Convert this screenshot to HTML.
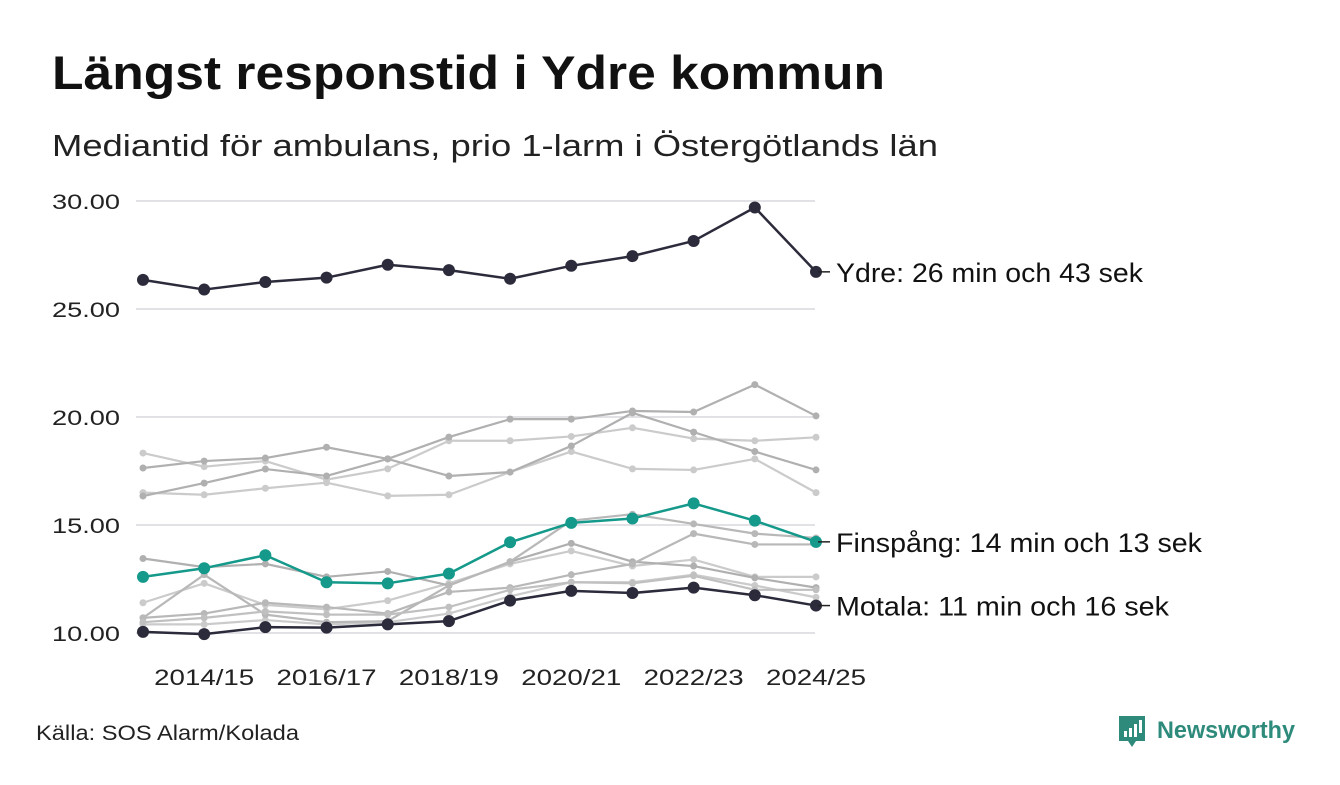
<!DOCTYPE html>
<html><head><meta charset="utf-8"><style>
body{margin:0;background:#fff;width:1340px;height:780px;overflow:hidden;font-family:"Liberation Sans",sans-serif;}
</style></head><body>
<svg width="1340" height="780">
<text x="52" y="89" font-size="47" font-weight="bold" fill="#111" textLength="833" lengthAdjust="spacingAndGlyphs">Längst responstid i Ydre kommun</text>
<text x="52" y="156" font-size="31" fill="#222" textLength="886" lengthAdjust="spacingAndGlyphs">Mediantid för ambulans, prio 1-larm i Östergötlands län</text>
<g id="grid"></g><g id="lines"></g><g id="labels"></g>
<text x="36" y="740" font-size="21" fill="#222" textLength="263" lengthAdjust="spacingAndGlyphs">Källa: SOS Alarm/Kolada</text>
<g>
<path d="M1119 716 h26 v25 h-9 l-4 6 l-4 -6 h-9 z" fill="#2e8b7c"/>
<rect x="1124" y="731" width="3" height="6" fill="#fff"/><rect x="1129" y="728" width="3" height="9" fill="#fff"/><rect x="1134" y="724" width="3" height="13" fill="#fff"/><rect x="1139" y="720" width="3" height="13" fill="#fff"/>
<text x="1157" y="738" font-size="24" font-weight="bold" fill="#2e8b7c" textLength="138" lengthAdjust="spacingAndGlyphs">Newsworthy</text>
</g>
</svg>
<script>
const categories=["2013/14","2014/15","2015/16","2016/17","2017/18","2018/19","2019/20","2020/21","2021/22","2022/23","2023/24","2024/25"];
const yTicks=[10,15,20,25,30];
const ydre=[26.35,25.9,26.25,26.45,27.05,26.8,26.4,27.0,27.45,28.15,29.7,26.72];
const finspang=[12.6,13.0,13.6,12.35,12.3,12.75,14.2,15.1,15.3,16.0,15.2,14.22];
const motala=[10.05,9.95,10.27,10.25,10.4,10.55,11.5,11.95,11.85,12.1,11.75,11.27];
const greyA=[17.64,17.96,18.1,18.6,18.06,17.27,17.45,18.66,20.19,19.3,18.4,17.55];
const greyB=[16.34,16.94,17.59,17.27,18.06,19.07,19.9,19.9,20.28,20.23,21.5,20.05];
const greyC=[18.33,17.7,17.96,17.1,17.6,18.9,18.9,19.1,19.5,19.0,18.9,19.06];
const greyD=[16.5,16.4,16.7,16.96,16.35,16.4,17.45,18.4,17.6,17.55,18.06,16.5];
const greyE=[13.45,13.05,13.2,12.6,12.85,12.2,13.3,14.15,13.3,13.1,12.55,12.1];
const greyF=[10.7,12.7,10.85,10.5,10.55,12.2,13.3,15.2,15.5,15.05,14.6,14.4];
const greyG=[10.7,10.9,11.4,11.2,10.9,11.9,12.1,12.7,13.2,14.6,14.1,14.1];
const greyH=[11.4,12.3,11.3,11.1,11.5,12.3,13.2,13.8,13.1,13.4,12.6,12.6];
const greyI=[10.5,10.7,11.0,10.85,10.85,11.2,12.0,12.35,12.3,12.65,12.0,12.0];
const greyJ=[10.4,10.4,10.6,10.4,10.5,10.9,11.7,12.35,12.35,12.7,12.2,11.65];
const ns="http://www.w3.org/2000/svg";
const X=i=>143+i*(816-143)/11;
const Y=v=>633-(v-10)*21.6;
const grid=document.getElementById('grid'),lines=document.getElementById('lines'),labels=document.getElementById('labels');
function mk(tag,at,parent){const e=document.createElementNS(ns,tag);for(const k in at)e.setAttribute(k,at[k]);parent.appendChild(e);return e;}
yTicks.forEach(t=>{
 const l=mk('line',{x1:136,x2:815,y1:Y(t),y2:Y(t),stroke:'#e2e2e6','stroke-width':2},grid);
 
 
 const tx=mk('text',{x:52,y:Y(t)+8,'font-size':21,fill:'#222',textLength:68,lengthAdjust:'spacingAndGlyphs'},grid);
 tx.textContent=t.toFixed(2);
 
 
});
categories.forEach((c,i)=>{ if(i%2===1){
 const tx=mk('text',{x:X(i)-50,y:685,'font-size':22,fill:'#222',textLength:100,lengthAdjust:'spacingAndGlyphs'},grid);
 tx.textContent=c;
 
 
}});
function series(vals,color,w,r,name){
 const g=mk('g',{},lines);
 
 
 mk('polyline',{points:vals.map((v,i)=>X(i)+','+Y(v)).join(' '),fill:'none',stroke:color,'stroke-width':w,'stroke-linejoin':'round'},g);
 vals.forEach((v,i)=>{const c=mk('circle',{cx:X(i),cy:Y(v),r:r,fill:color},g);
  
  });
}
[[greyC,'#cbcbcb'],[greyD,'#cbcbcb'],[greyH,'#cbcbcb'],[greyJ,'#cbcbcb'],[greyA,'#b0b0b0'],[greyB,'#b0b0b0'],[greyE,'#b0b0b0'],[greyF,'#b8b8b8'],[greyG,'#b8b8b8'],[greyI,'#c0c0c0']].forEach((s,k)=>series(s[0],s[1],2.2,3.5,'other-municipality-line'));
series(finspang,'#14998a',2.5,6,'finspang-line');
series(motala,'#2b2b3b',2.5,6,'motala-line');
series(ydre,'#2b2b3b',2.5,6,'ydre-line');
function lab(v,txt,name,len){
 mk('line',{x1:818,x2:830,y1:Y(v),y2:Y(v),stroke:'#222','stroke-width':1.5},labels);
 const t=mk('text',{x:836,y:Y(v)+10,'font-size':27,fill:'#111',textLength:len,lengthAdjust:'spacingAndGlyphs'},labels);
 t.textContent=txt;
 
 
}
lab(ydre[11],'Ydre: 26 min och 43 sek','ydre-label',307);
lab(finspang[11],'Finspång: 14 min och 13 sek','finspang-label',366);
lab(motala[11],'Motala: 11 min och 16 sek','motala-label',333);
</script>
</body></html>
